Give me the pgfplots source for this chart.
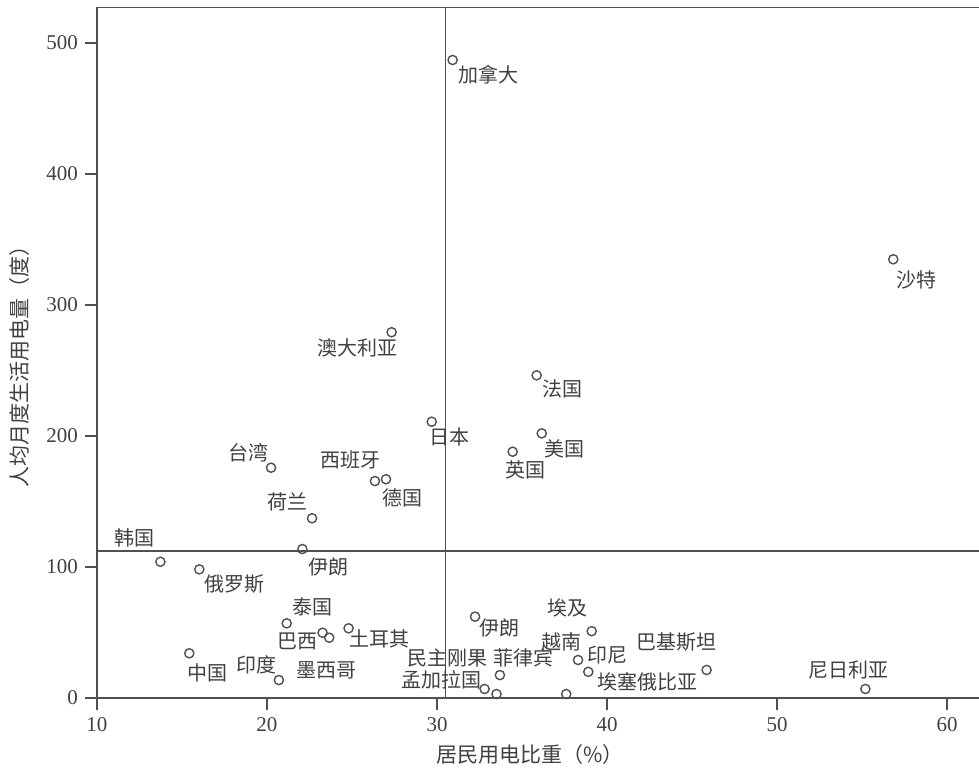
\documentclass[border=0pt]{standalone}
\usepackage{fontspec}
\setmainfont{Liberation Serif}
\newfontfamily\cjk{Noto Sans CJK SC}
\usepackage{pgfplots}
\pgfplotsset{compat=1.18}
\definecolor{ink}{HTML}{404040}
\definecolor{axc}{HTML}{505050}
\begin{document}
\begin{tikzpicture}
\begin{axis}[name=ax, at={(0,0)}, anchor=south west,
  scale only axis, width=442pt, height=345.2pt,
  xmin=10, xmax=62, ymin=0, ymax=527,
  xtick={10,20,...,60}, ytick={0,100,...,500},
  tick align=outside, xtick pos=bottom, ytick pos=left,
  major tick length=6pt,
  axis line style={axc, line width=0.8pt},
  every tick/.style={axc, line width=0.8pt},
  tick label style={font=\fontsize{10.5}{12}\selectfont, text=ink},
  /pgf/number format/assume math mode=true,
  xlabel={居民用电比重（\%）},
  ylabel={人均月度生活用电量（度）},
  xlabel style={font=\cjk\fontsize{10.5}{12}\selectfont, text=ink, at={(axis description cs:0.49,0)}, yshift=-28.5pt, anchor=center},
  ylabel style={font=\cjk\fontsize{10.5}{12}\selectfont, text=ink, at={(axis description cs:0,0.487)}, yshift=38.5pt, anchor=center},
  clip=false]
\addplot[axc, line width=0.8pt, no marks] coordinates {(30.5,0) (30.5,527)};
\addplot[axc, line width=0.8pt, no marks] coordinates {(10,112) (62,112)};
\addplot[only marks, mark=o, mark size=2.3pt, axc, mark options={fill=white, line width=0.7pt}] coordinates {
(30.92,487) (56.84,334.9) (27.33,279.2) (35.86,246.3) (29.69,210.9) (36.16,202) (34.45,188)
(20.24,175.8) (26.35,165.6) (27.0,167) (22.65,137.2) (22.08,113.7) (13.73,104) (16.02,98.2)
(21.16,57) (23.27,49.8) (23.66,46) (24.8,53.2) (15.43,34.1) (20.7,13.7) (32.24,62.1)
(32.8,6.9) (33.5,3) (33.7,17.5) (37.6,3) (39.1,51) (38.3,29) (38.9,20) (45.86,21.4) (55.2,6.9)
};
\begin{scope}[every node/.style={text=ink, font=\cjk\fontsize{10}{12}\selectfont, inner sep=0pt}]
\node at (axis cs:33.0,475.6) {加拿大};
\node at (axis cs:58.2,319) {沙特};
\node at (axis cs:25.3,267) {澳大利亚};
\node at (axis cs:37.4,236) {法国};
\node at (axis cs:30.76,199) {日本};
\node at (axis cs:37.5,190) {美国};
\node at (axis cs:35.2,174) {英国};
\node at (axis cs:18.9,187) {台湾};
\node at (axis cs:24.9,181.7) {西班牙};
\node at (axis cs:28.0,153) {德国};
\node at (axis cs:21.2,149.6) {荷兰};
\node at (axis cs:23.6,100) {伊朗};
\node at (axis cs:12.2,122) {韩国};
\node at (axis cs:18.1,87) {俄罗斯};
\node at (axis cs:22.7,69.5) {泰国};
\node at (axis cs:21.8,43.5) {巴西};
\node at (axis cs:23.5,21.4) {墨西哥};
\node at (axis cs:26.6,45) {土耳其};
\node at (axis cs:16.5,19) {中国};
\node at (axis cs:19.4,25) {印度};
\node at (axis cs:33.7,53.4) {伊朗};
\node at (axis cs:30.6,30.5) {民主刚果};
\node at (axis cs:30.24,13.7) {孟加拉国};
\node at (axis cs:35.06,30.5) {菲律宾};
\node at (axis cs:37.65,68.7) {埃及};
\node at (axis cs:37.35,42.7) {越南};
\node at (axis cs:40.0,32.8) {印尼};
\node at (axis cs:42.4,12.2) {埃塞俄比亚};
\node at (axis cs:44.1,42.7) {巴基斯坦};
\node at (axis cs:54.2,21.4) {尼日利亚};
\end{scope}
\end{axis}
\pgfresetboundingbox
\path[use as bounding box] (ax.south west) ++(-48.5pt,-34.5pt) rectangle ++(489.5pt,383.5pt);
\end{tikzpicture}
\end{document}
